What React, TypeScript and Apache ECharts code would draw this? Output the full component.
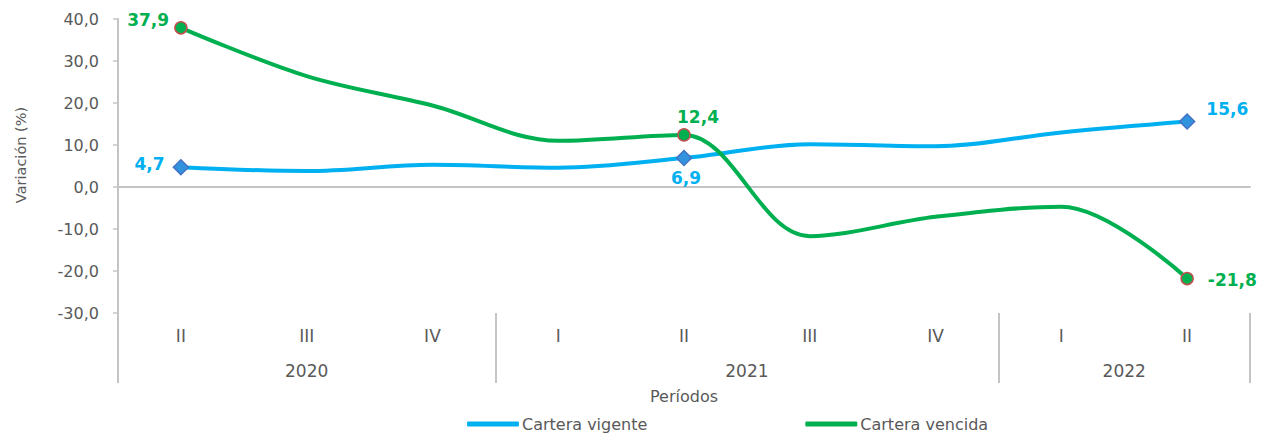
import React, { useEffect, useRef } from "react";
import * as echarts from "echarts";

const quarters = ["II", "III", "IV", "I", "II", "III", "IV", "I", "II"];
const years = ["2020", "2021", "2022"];
const quartersPerYear = [3, 4, 2];
const carteraVigente = [4.7, 3.8, 5.3, 4.6, 6.9, 10.2, 9.7, 13.0, 15.6];
const carteraVencida = [37.9, 26.4, 19.4, 11.0, 12.4, -11.7, -7.1, -4.7, -21.8];
const labeledIndices = [0, 4, 8];
const yMin = -30;
const yMax = 40;
const yStep = 10;

const FONT = "'DejaVu Sans', Verdana, sans-serif";
const BLUE = "#00b0f0";
const GREEN = "#00b050";
const GREY_TEXT = "#595959";
const AXIS_GREY = "#c4c4c4";

const fmt = (v: number) => v.toFixed(1).replace(".", ",");

export default function App() {
  const ref = useRef<HTMLDivElement>(null);

  useEffect(() => {
    if (!ref.current) return;
    const chart = echarts.init(ref.current, null, { renderer: "svg" });

    // year group boundaries and centres, derived from quartersPerYear
    const starts: number[] = [];
    const centres: number[] = [];
    let acc = 0;
    quartersPerYear.forEach((n) => {
      starts.push(acc);
      centres.push(acc + n / 2);
      acc += n;
    });

    const blueLabelCfg: any[] = [
      { position: "left", offset: [-3, -3] },
      { position: "bottom", offset: [2, -2] },
      { position: "right", offset: [6, -12] },
    ];
    const greenLabelCfg: any[] = [
      { position: "left", offset: [0, -8] },
      { position: "top", offset: [14, 2] },
      { position: "right", offset: [9, 1] },
    ];

    const blueData = carteraVigente.map((v, i) => {
      const k = labeledIndices.indexOf(i);
      if (k < 0) return v;
      return {
        value: v,
        symbol: "diamond",
        symbolSize: 15,
        itemStyle: { color: "#3192de", borderColor: "#4472c4", borderWidth: 1.5 },
        label: {
          show: true,
          formatter: fmt(v),
          color: BLUE,
          fontWeight: "bold",
          fontSize: 17,
          fontFamily: FONT,
          ...blueLabelCfg[k],
        },
      };
    });
    const greenData = carteraVencida.map((v, i) => {
      const k = labeledIndices.indexOf(i);
      if (k < 0) return v;
      return {
        value: v,
        symbol: "circle",
        symbolSize: 12,
        itemStyle: { color: GREEN, borderColor: "#c0504d", borderWidth: 1.5 },
        label: {
          show: true,
          formatter: fmt(v),
          color: GREEN,
          fontWeight: "bold",
          fontSize: 17,
          fontFamily: FONT,
          ...greenLabelCfg[k],
        },
      };
    });

    chart.setOption({
      animation: false,
      backgroundColor: "#ffffff",
      grid: { left: 118, right: 20, top: 19, bottom: 121, containLabel: false },
      legend: {
        data: ["Cartera vigente", "Cartera vencida"],
        left: 462,
        top: 411,
        icon: "roundRect",
        itemWidth: 52,
        itemHeight: 5,
        itemGap: 158,
        itemStyle: { borderWidth: 0 },
        textStyle: { color: GREY_TEXT, fontSize: 16, fontFamily: FONT, padding: [0, 0, 0, -2] },
      },
      xAxis: [
        {
          type: "category",
          data: quarters,
          position: "bottom",
          boundaryGap: true,
          axisLine: { show: false, onZero: false },
          axisTick: {
            show: true,
            length: 70,
            interval: (index: number) => starts.includes(index),
            lineStyle: { color: AXIS_GREY, width: 2 },
          },
          axisLabel: {
            interval: 0,
            margin: 14,
            color: GREY_TEXT,
            fontSize: 17,
            fontFamily: FONT,
          },
          splitLine: { show: false },
        },
        {
          type: "category",
          data: quarters,
          position: "bottom",
          boundaryGap: true,
          axisLine: { show: true, onZero: true, onZeroAxisIndex: 0, lineStyle: { color: AXIS_GREY, width: 2 } },
          axisTick: { show: false },
          axisLabel: { show: false },
          splitLine: { show: false },
        },
        {
          type: "value",
          position: "bottom",
          min: 0,
          max: quarters.length,
          interval: 0.5,
          axisLine: { show: false, onZero: false },
          axisTick: { show: false },
          splitLine: { show: false },
          axisLabel: {
            margin: 49,
            color: GREY_TEXT,
            fontSize: 17,
            fontFamily: FONT,
            formatter: (v: number) => {
              const k = centres.findIndex((c) => Math.abs(c - v) < 1e-6);
              return k >= 0 ? years[k] : "";
            },
          },
          name: "Períodos",
          nameLocation: "middle",
          nameGap: 75,
          nameTextStyle: { color: GREY_TEXT, fontSize: 16, fontFamily: FONT },
        },
      ],
      yAxis: {
        type: "value",
        min: yMin,
        max: yMax,
        interval: yStep,
        axisLine: { show: true, onZero: false, lineStyle: { color: AXIS_GREY, width: 2 } },
        axisTick: { show: true, length: 5, lineStyle: { color: AXIS_GREY, width: 1.5 } },
        splitLine: { show: false },
        axisLabel: {
          margin: 19,
          color: GREY_TEXT,
          fontSize: 16,
          fontFamily: FONT,
          formatter: (v: number) => fmt(v),
        },
        name: "Variación (%)",
        nameLocation: "middle",
        nameGap: 90,
        nameTextStyle: { color: GREY_TEXT, fontSize: 14.5, fontFamily: FONT, padding: [0, 0, 0, 22] },
      },
      series: [
        {
          name: "Cartera vigente",
          type: "line",
          xAxisIndex: 0,
          data: blueData,
          smooth: 0.35,
          symbol: "none",
          showSymbol: true,
          color: BLUE,
          lineStyle: { color: BLUE, width: 4 },
          itemStyle: { color: BLUE },
          z: 3,
        },
        {
          name: "Cartera vencida",
          type: "line",
          xAxisIndex: 0,
          data: greenData,
          smooth: 0.35,
          symbol: "none",
          showSymbol: true,
          color: GREEN,
          lineStyle: { color: GREEN, width: 4 },
          itemStyle: { color: GREEN },
          z: 4,
        },
      ],
    });

    return () => chart.dispose();
  }, []);

  return (
    <div
      ref={ref}
      style={{ position: "fixed", left: 0, top: 0, width: 1270, height: 434, background: "#fff" }}
    />
  );
}
